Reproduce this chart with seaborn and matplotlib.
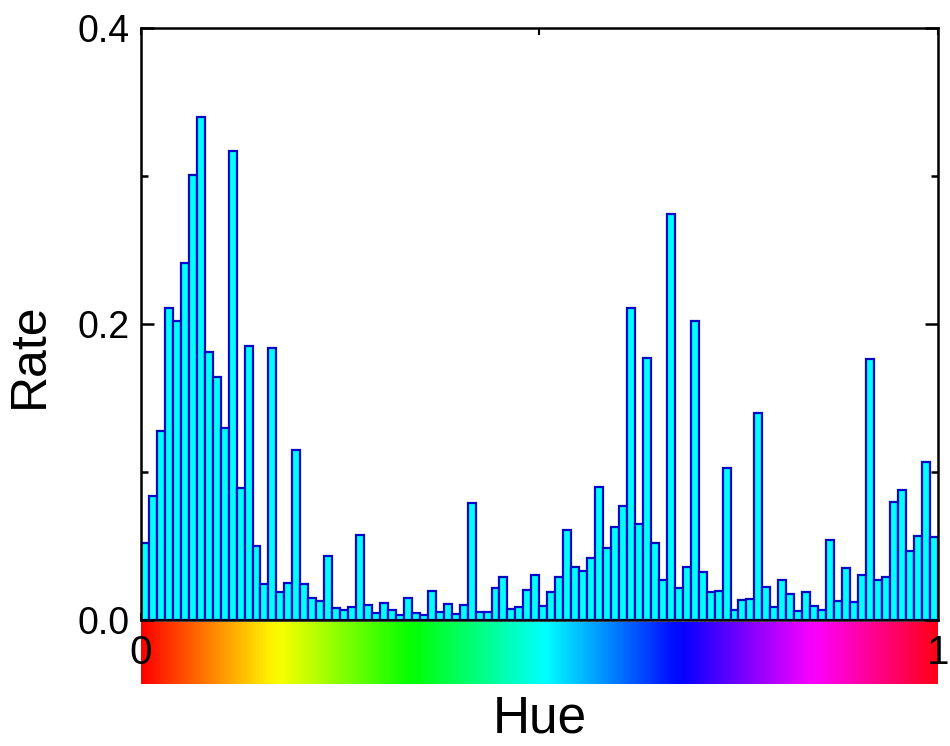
import numpy as np
import pandas as pd
import matplotlib
matplotlib.use("Agg")
import matplotlib.pyplot as plt
import seaborn as sns

# ---- data ----
n_bins = 100
hue_bins = (np.arange(n_bins) + 0.5) / n_bins   # bin centres of the hue histogram
rates = [
    0.052, 0.084, 0.128, 0.211, 0.202, 0.241, 0.301, 0.340, 0.181, 0.164,
    0.130, 0.317, 0.089, 0.185, 0.050, 0.024, 0.184, 0.019, 0.025, 0.115,
    0.024, 0.015, 0.013, 0.043, 0.008, 0.007, 0.0086, 0.0575, 0.0102, 0.0045,
    0.0113, 0.0066, 0.0032, 0.0149, 0.0045, 0.0032, 0.0199, 0.0054, 0.0109, 0.0043,
    0.0102, 0.0792, 0.0054, 0.0054, 0.0217, 0.0292, 0.0077, 0.0088, 0.0204, 0.0302,
    0.0095, 0.0186, 0.0292, 0.0611, 0.0360, 0.0328, 0.0416, 0.0900, 0.0484, 0.0627,
    0.0769, 0.2109, 0.0647, 0.1771, 0.0518, 0.0267, 0.2744, 0.0219, 0.0360, 0.2018,
    0.0326, 0.0186, 0.0199, 0.1025, 0.0068, 0.0136, 0.0140, 0.1400, 0.0222, 0.0086,
    0.0267, 0.0176, 0.0059, 0.0188, 0.0097, 0.0068, 0.0538, 0.0131, 0.0348, 0.0124,
    0.0303, 0.1765, 0.0267, 0.0292, 0.0796, 0.0878, 0.0466, 0.0570, 0.1070, 0.0559,
]
x_ticks = [0, 0.5, 1]
x_tick_labels = ["0", "", "1"]
y_ticks = [0.0, 0.2, 0.4]
y_tick_labels = ["0.0", "0.2", "0.4"]
y_minor = [0.1, 0.3]

df = pd.DataFrame({"hue": hue_bins, "rate": rates})

sns.set_theme(style="ticks")
plt.rcParams["font.family"] = ["Liberation Sans", "DejaVu Sans"]
plt.rcParams["text.color"] = "black"
plt.rcParams["axes.labelcolor"] = "black"
plt.rcParams["xtick.color"] = "black"
plt.rcParams["ytick.color"] = "black"

fig = plt.figure(figsize=(9.5, 7.46), dpi=100)
ax = fig.add_axes([0.1484, 0.1689, 0.8386, 0.7936])
cax = fig.add_axes([0.1484, 0.0831, 0.8386, 0.0831])

sns.histplot(data=df, x="hue", weights="rate", bins=n_bins, binrange=(0, 1),
             color="#00FFFF", edgecolor="#0707C8", linewidth=1.6, alpha=1.0,
             ax=ax)

ax.set_xlim(0, 1)
ax.set_ylim(0, 0.4)
ax.set_yticks(y_ticks)
ax.set_yticklabels(y_tick_labels)
ax.set_yticks(y_minor, minor=True)
ax.set_xticks(x_ticks)
ax.set_xticklabels(x_tick_labels)
ax.tick_params(axis="y", which="major", direction="in", length=9.5, width=1.8,
               labelsize=27, right=True, left=True, pad=8)
ax.tick_params(axis="y", which="minor", direction="in", length=5, width=1.8,
               right=True, left=True)
ax.tick_params(axis="x", which="major", direction="in", length=5, width=1.5,
               labelsize=29, top=True, bottom=True, pad=10)
for s in ax.spines.values():
    s.set_linewidth(1.8)
    s.set_color("black")
    s.set_visible(True)
ax.set_xlabel("")
ax.set_ylabel("Rate", fontsize=36, color="black")
ax.yaxis.set_label_coords(-0.11, 0.447)
ax.set_zorder(3)
ax.patch.set_alpha(0)

# hue colour bar under the x axis
gradient = np.linspace(0, 1, 512).reshape(1, -1)
cax.imshow(gradient, aspect="auto", cmap="hsv", extent=(0, 1, 0, 1))
cax.set_xlim(0, 1)
cax.set_axis_off()
cax.set_zorder(1)

fig.text(0.5684, 0.036, "Hue", ha="center", va="center", fontsize=37,
         color="black")

fig.savefig("out.png", dpi=100)
